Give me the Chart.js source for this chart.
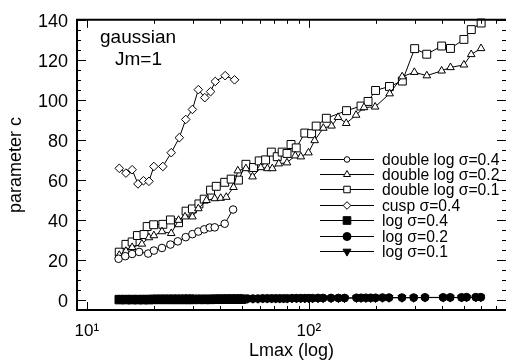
<!DOCTYPE html>
<html>
<head>
<meta charset="utf-8">
<script src="https://cdn.jsdelivr.net/npm/chart.js@4/dist/chart.umd.min.js"></script>
<style>
  html, body { margin: 0; padding: 0; background: #fff; }
  #wrap { width: 513px; height: 360px; }
</style>
</head>
<body>
<div id="wrap"><canvas id="chart" width="513" height="360"></canvas></div>
<script>
// Lmax values of the double log sigma=0.1 curve
const lmaxA = [14.0, 15.0, 16.0, 16.9, 18.1, 18.7, 20.0, 22.0, 23.8, 25.9,
               28.0, 29.9, 32.0, 33.8, 36.1, 38.3, 41.8, 44.7, 48.2, 52.1,
               56.4, 59.8, 63.9, 67.8, 72.1, 75.9, 79.8, 83.2, 87.8, 96.0,
               103, 108, 120, 148, 172, 185, 200, 231, 264, 300,
               340, 397, 435, 500, 540, 598];
// Lmax values of the double log sigma=0.2 curve
const lmaxB = [14.0, 15.0, 16.0, 17.7, 19.05, 20.05, 21.8, 24.0, 25.9, 27.7,
               29.9, 31.8, 34.6, 37.7, 40.1, 42.5, 45.8, 47.9, 52.1, 55.8,
               60.8, 65.1, 68.5, 73.3, 79.8, 86.9, 92.1, 99.7, 106.3, 116.3,
               126.6, 135.5, 147.5, 163.4, 177.4, 199.1, 231.4, 263.6, 299, 340.4,
               396.9, 435.2, 500.1, 539.5, 597.5];
// Lmax values of the short curves
const lmaxC = [13.9, 14.9, 16.0, 17.2, 18.9, 20.05, 21.8, 23.8, 25.7, 27.9,
               29.9, 31.8, 33.8, 35.8, 37.7, 41.8, 45.6];
const lmaxD = [14.0, 15.0, 16.0, 17.0, 18.0, 19.05, 20.05, 22.0, 24.0, 26.1,
               27.9, 29.9, 31.8, 34.0, 36.1, 37.9, 42.0, 46.3];
// Lmax values of the log curves (dense at small Lmax)
const lmaxLog = [14, 15, 16, 17, 18, 19, 20, 21, 22, 23,
                 24, 25, 26, 27, 28, 29, 30, 32, 34, 36,
                 38, 40, 42, 44, 46, 48, 50, 53, 56, 59,
                 62, 65, 68, 71, 74, 77, 80, 84, 88, 92,
                 96, 100, 104, 110, 116, 126, 136, 145, 164, 172,
                 181, 190, 200, 215, 230, 263, 297, 334, 403, 434,
                 488, 514, 566, 596];

const dblLog04 = [20.6, 21.9, 23.0, 24.0, 23.2, 24.7, 26.0, 27.7, 29.3, 31.4,
                  32.9, 34.2, 35.3, 36.2, 36.3, 38.1, 45.2];
const dblLog02 = [22.4, 24.4, 26.3, 28.0, 31.2, 32.2, 34.2, 33.3, 39.9, 41.6,
                  41.6, 45.7, 49.8, 50.7, 50.9, 51.4, 56.3, 64.6, 65.7, 61.6,
                  66.2, 65.7, 65.7, 68.1, 68.6, 72.1, 71.6, 73.6, 79.7, 85.9,
                  87.0, 91.3, 88.3, 92.4, 96.2, 96.5, 103.1, 111.6, 113.8, 112.1,
                  114.5, 116.2, 117.5, 122.7, 125.7];
const dblLog01 = [23.9, 27.8, 29.0, 32.2, 32.7, 36.7, 37.6, 37.8, 40.0, 38.6,
                  44.4, 45.5, 48.0, 50.4, 54.9, 56.8, 58.8, 60.4, 59.9, 67.8,
                  66.2, 69.5, 70.0, 73.9, 71.6, 73.9, 73.2, 77.7, 76.0, 83.4,
                  83.1, 86.9, 90.8, 94.6, 96.9, 99.2, 104.7, 106.7, 109.4, 125.6,
                  122.8, 126.9, 125.7, 130.2, 135.1, 138.4];
const cusp04 = [65.8, 63.4, 65.1, 58.0, 59.6, 59.3, 66.7, 66.7, 73.6, 81.1,
                90.2, 95.2, 105.1, 101.1, 104.1, 109.2, 112.1, 110.0];
const log04 = [0.2, 0.2, 0.2, 0.2, 0.2, 0.2, 0.3, 0.3, 0.3, 0.3,
               0.3, 0.3, 0.3, 0.3, 0.3, 0.3, 0.3, 0.3, 0.3, 0.3,
               0.4, 0.4, 0.4, 0.4, 0.4, 0.4, 0.4];
const log02 = [0.4, 0.4, 0.4, 0.4, 0.4, 0.4, 0.5, 0.5, 0.5, 0.5,
               0.5, 0.5, 0.5, 0.5, 0.6, 0.6, 0.6, 0.6, 0.6, 0.6,
               0.6, 0.6, 0.7, 0.7, 0.7, 0.7, 0.7, 0.7, 0.7, 0.7,
               0.8, 0.8, 0.8, 0.8, 0.8, 0.8, 0.8, 0.9, 0.9, 0.9,
               0.9, 0.9, 0.9, 1.0, 1.0, 1.0, 1.0, 1.0, 1.1, 1.1,
               1.1, 1.1, 1.1, 1.2, 1.2, 1.2, 1.2, 1.3, 1.3, 1.3,
               1.3, 1.4, 1.4, 1.4];
const log01 = [0.3, 0.3, 0.3, 0.3, 0.3, 0.3, 0.3, 0.4, 0.4, 0.4,
               0.4, 0.4, 0.4, 0.4, 0.4, 0.5, 0.5, 0.5, 0.5, 0.5,
               0.5, 0.5, 0.5, 0.6, 0.6, 0.6, 0.6, 0.6, 0.6, 0.6,
               0.7, 0.7, 0.7, 0.7, 0.7, 0.7, 0.7, 0.8, 0.8, 0.8,
               0.8, 0.8, 0.8, 0.9, 0.9, 0.9, 0.9, 0.9, 1.0, 1.0,
               1.0, 1.0, 1.0, 1.1, 1.1, 1.1, 1.1, 1.2, 1.2, 1.2,
               1.2, 1.3, 1.3, 1.3];

const seriesLabels = ['double log \u03c3=0.4', 'double log \u03c3=0.2', 'double log \u03c3=0.1',
                      'cusp \u03c3=0.4', 'log \u03c3=0.4', 'log \u03c3=0.2', 'log \u03c3=0.1'];
const yTickValues = [0, 20, 40, 60, 80, 100, 120, 140];
const xTickValues = [10, 100];
const xTickLabels = ['10\u00b9', '10\u00b2'];

const FONT = "'Liberation Sans', Arial, Helvetica, sans-serif";

function pts(xs, ys) {
    return ys.map((y, i) => ({x: xs[i], y: y}));
}

// marker styles: [pointStyle, radius in plot, radius in legend, filled, rotation]
const styles = [
    ['circle', 3.8, 2.8, false, 0],
    ['triangle', 4.4, 4.0, false, 0],
    ['rect', 5.6, 4.6, false, 0],
    ['rectRot', 4.3, 3.8, false, 0],
    ['rect', 6.0, 5.4, true, 0],
    ['circle', 3.9, 4.0, true, 0],
    ['triangle', 4.5, 4.6, true, 180]
];

const seriesData = [
    pts(lmaxC, dblLog04),
    pts(lmaxB, dblLog02),
    pts(lmaxA, dblLog01),
    pts(lmaxD, cusp04),
    pts(lmaxLog, log04),
    pts(lmaxLog, log02),
    pts(lmaxLog, log01)
];

function drawMarker(ctx, st, x, y, r) {
    const [style, , , filled, rot] = st;
    ctx.beginPath();
    if (style === 'circle') {
        ctx.arc(x, y, r, 0, Math.PI * 2);
    } else if (style === 'rect') {
        const s = r * Math.SQRT1_2;
        ctx.rect(x - s, y - s, 2 * s, 2 * s);
    } else if (style === 'rectRot') {
        ctx.moveTo(x - r, y); ctx.lineTo(x, y - r); ctx.lineTo(x + r, y); ctx.lineTo(x, y + r);
        ctx.closePath();
    } else {
        let a = rot * Math.PI / 180;
        ctx.moveTo(x + Math.sin(a) * r, y - Math.cos(a) * r);
        a += Math.PI * 2 / 3;
        ctx.lineTo(x + Math.sin(a) * r, y - Math.cos(a) * r);
        a += Math.PI * 2 / 3;
        ctx.lineTo(x + Math.sin(a) * r, y - Math.cos(a) * r);
        ctx.closePath();
    }
    ctx.fillStyle = filled ? '#000' : '#fff';
    ctx.fill();
    ctx.strokeStyle = '#000';
    ctx.lineWidth = 1;
    ctx.stroke();
}

const framePlugin = {
    id: 'frame',
    afterDraw(chart) {
        const ctx = chart.ctx;
        const a = chart.chartArea;
        const xs = chart.scales.x, ys = chart.scales.y;
        ctx.save();
        ctx.strokeStyle = '#000';
        // inward ticks on all four sides
        ctx.lineWidth = 1;
        ctx.beginPath();
        for (let v = -5; v <= 140; v += 5) {
            const p = Math.round(ys.getPixelForValue(v)) + 0.5;
            const len = v % 20 === 0 ? 9 : 4;
            ctx.moveTo(a.left, p); ctx.lineTo(a.left + len, p);
            ctx.moveTo(a.right, p); ctx.lineTo(a.right - len, p);
        }
        for (let d = 10; d <= 100; d *= 10) {
            for (let m = 1; m <= 9; m++) {
                const v = d * m;
                if (v > xs.max) break;
                const p = Math.round(xs.getPixelForValue(v)) + 0.5;
                const len = m === 1 ? 8 : 4;
                ctx.moveTo(p, a.bottom); ctx.lineTo(p, a.bottom - len);
                ctx.moveTo(p, a.top); ctx.lineTo(p, a.top + len);
            }
        }
        ctx.stroke();
        // border
        ctx.lineWidth = 2;
        ctx.beginPath();
        ctx.moveTo(a.left, a.top); ctx.lineTo(a.right, a.top);
        ctx.moveTo(a.left, a.bottom); ctx.lineTo(a.right, a.bottom);
        ctx.moveTo(a.left, a.top - 1); ctx.lineTo(a.left, a.bottom + 1);
        ctx.stroke();

        // annotation
        ctx.fillStyle = '#000';
        ctx.font = '19px ' + FONT;
        ctx.textBaseline = 'alphabetic';
        ctx.textAlign = 'left';
        ctx.fillText('gaussian', 100, 43);
        ctx.fillText('Jm=1', 115, 65);

        // legend
        ctx.font = '15.7px ' + FONT;
        for (let i = 0; i < seriesLabels.length; i++) {
            const y = 158.5 + i * 15.4;
            ctx.lineWidth = 1;
            ctx.strokeStyle = '#000';
            ctx.beginPath();
            ctx.moveTo(320, Math.round(y) + 0.5);
            ctx.lineTo(374, Math.round(y) + 0.5);
            ctx.stroke();
            drawMarker(ctx, styles[i], 347, Math.round(y) + 0.5, styles[i][2]);
            ctx.fillStyle = '#000';
            ctx.fillText(seriesLabels[i], 382, y + 6);
        }
        ctx.restore();
    }
};

const datasets = seriesData.map((d, i) => ({
    label: seriesLabels[i],
    data: d,
    showLine: true,
    borderColor: '#000',
    borderWidth: 1,
    pointStyle: styles[i][0],
    pointRadius: styles[i][1],
    pointRotation: styles[i][4],
    pointBackgroundColor: styles[i][3] ? '#000' : '#fff',
    pointBorderColor: '#000',
    pointBorderWidth: 1,
    tension: 0,
    fill: false,
    clip: false
}));

new Chart(document.getElementById('chart').getContext('2d'), {
    type: 'line',
    data: { datasets: datasets },
    plugins: [framePlugin],
    options: {
        responsive: false,
        animation: false,
        layout: { padding: { top: 15, right: 1, left: 0, bottom: 0 } },
        plugins: { legend: { display: false }, tooltip: { enabled: false } },
        scales: {
            x: {
                type: 'logarithmic',
                min: 9.03,
                max: 774,
                grid: { display: false, drawTicks: false },
                border: { display: false },
                afterBuildTicks: s => { s.ticks = xTickValues.map(v => ({ value: v })); },
                afterFit: s => { s.height = 50; },
                ticks: {
                    autoSkip: false,
                    maxRotation: 0,
                    padding: 11,
                    color: '#000',
                    font: { family: FONT, size: 17 },
                    callback: (v, i) => xTickLabels[i]
                },
                title: {
                    display: true,
                    text: 'Lmax (log)',
                    color: '#000',
                    font: { family: FONT, size: 18, lineHeight: 1 },
                    padding: { top: 0, bottom: 0 }
                }
            },
            y: {
                type: 'linear',
                min: -5,
                max: 140,
                grid: { display: false, drawTicks: false },
                border: { display: false },
                afterBuildTicks: s => { s.ticks = yTickValues.map(v => ({ value: v })); },
                afterFit: s => { s.width = 77; },
                ticks: {
                    padding: 9,
                    labelOffset: 2,
                    color: '#000',
                    font: { family: FONT, size: 18 }
                },
                title: {
                    display: true,
                    text: 'parameter c',
                    color: '#000',
                    font: { family: FONT, size: 18, lineHeight: 1.2 },
                    padding: { top: 5, bottom: 0 }
                }
            }
        }
    }
});
</script>
</body>
</html>
